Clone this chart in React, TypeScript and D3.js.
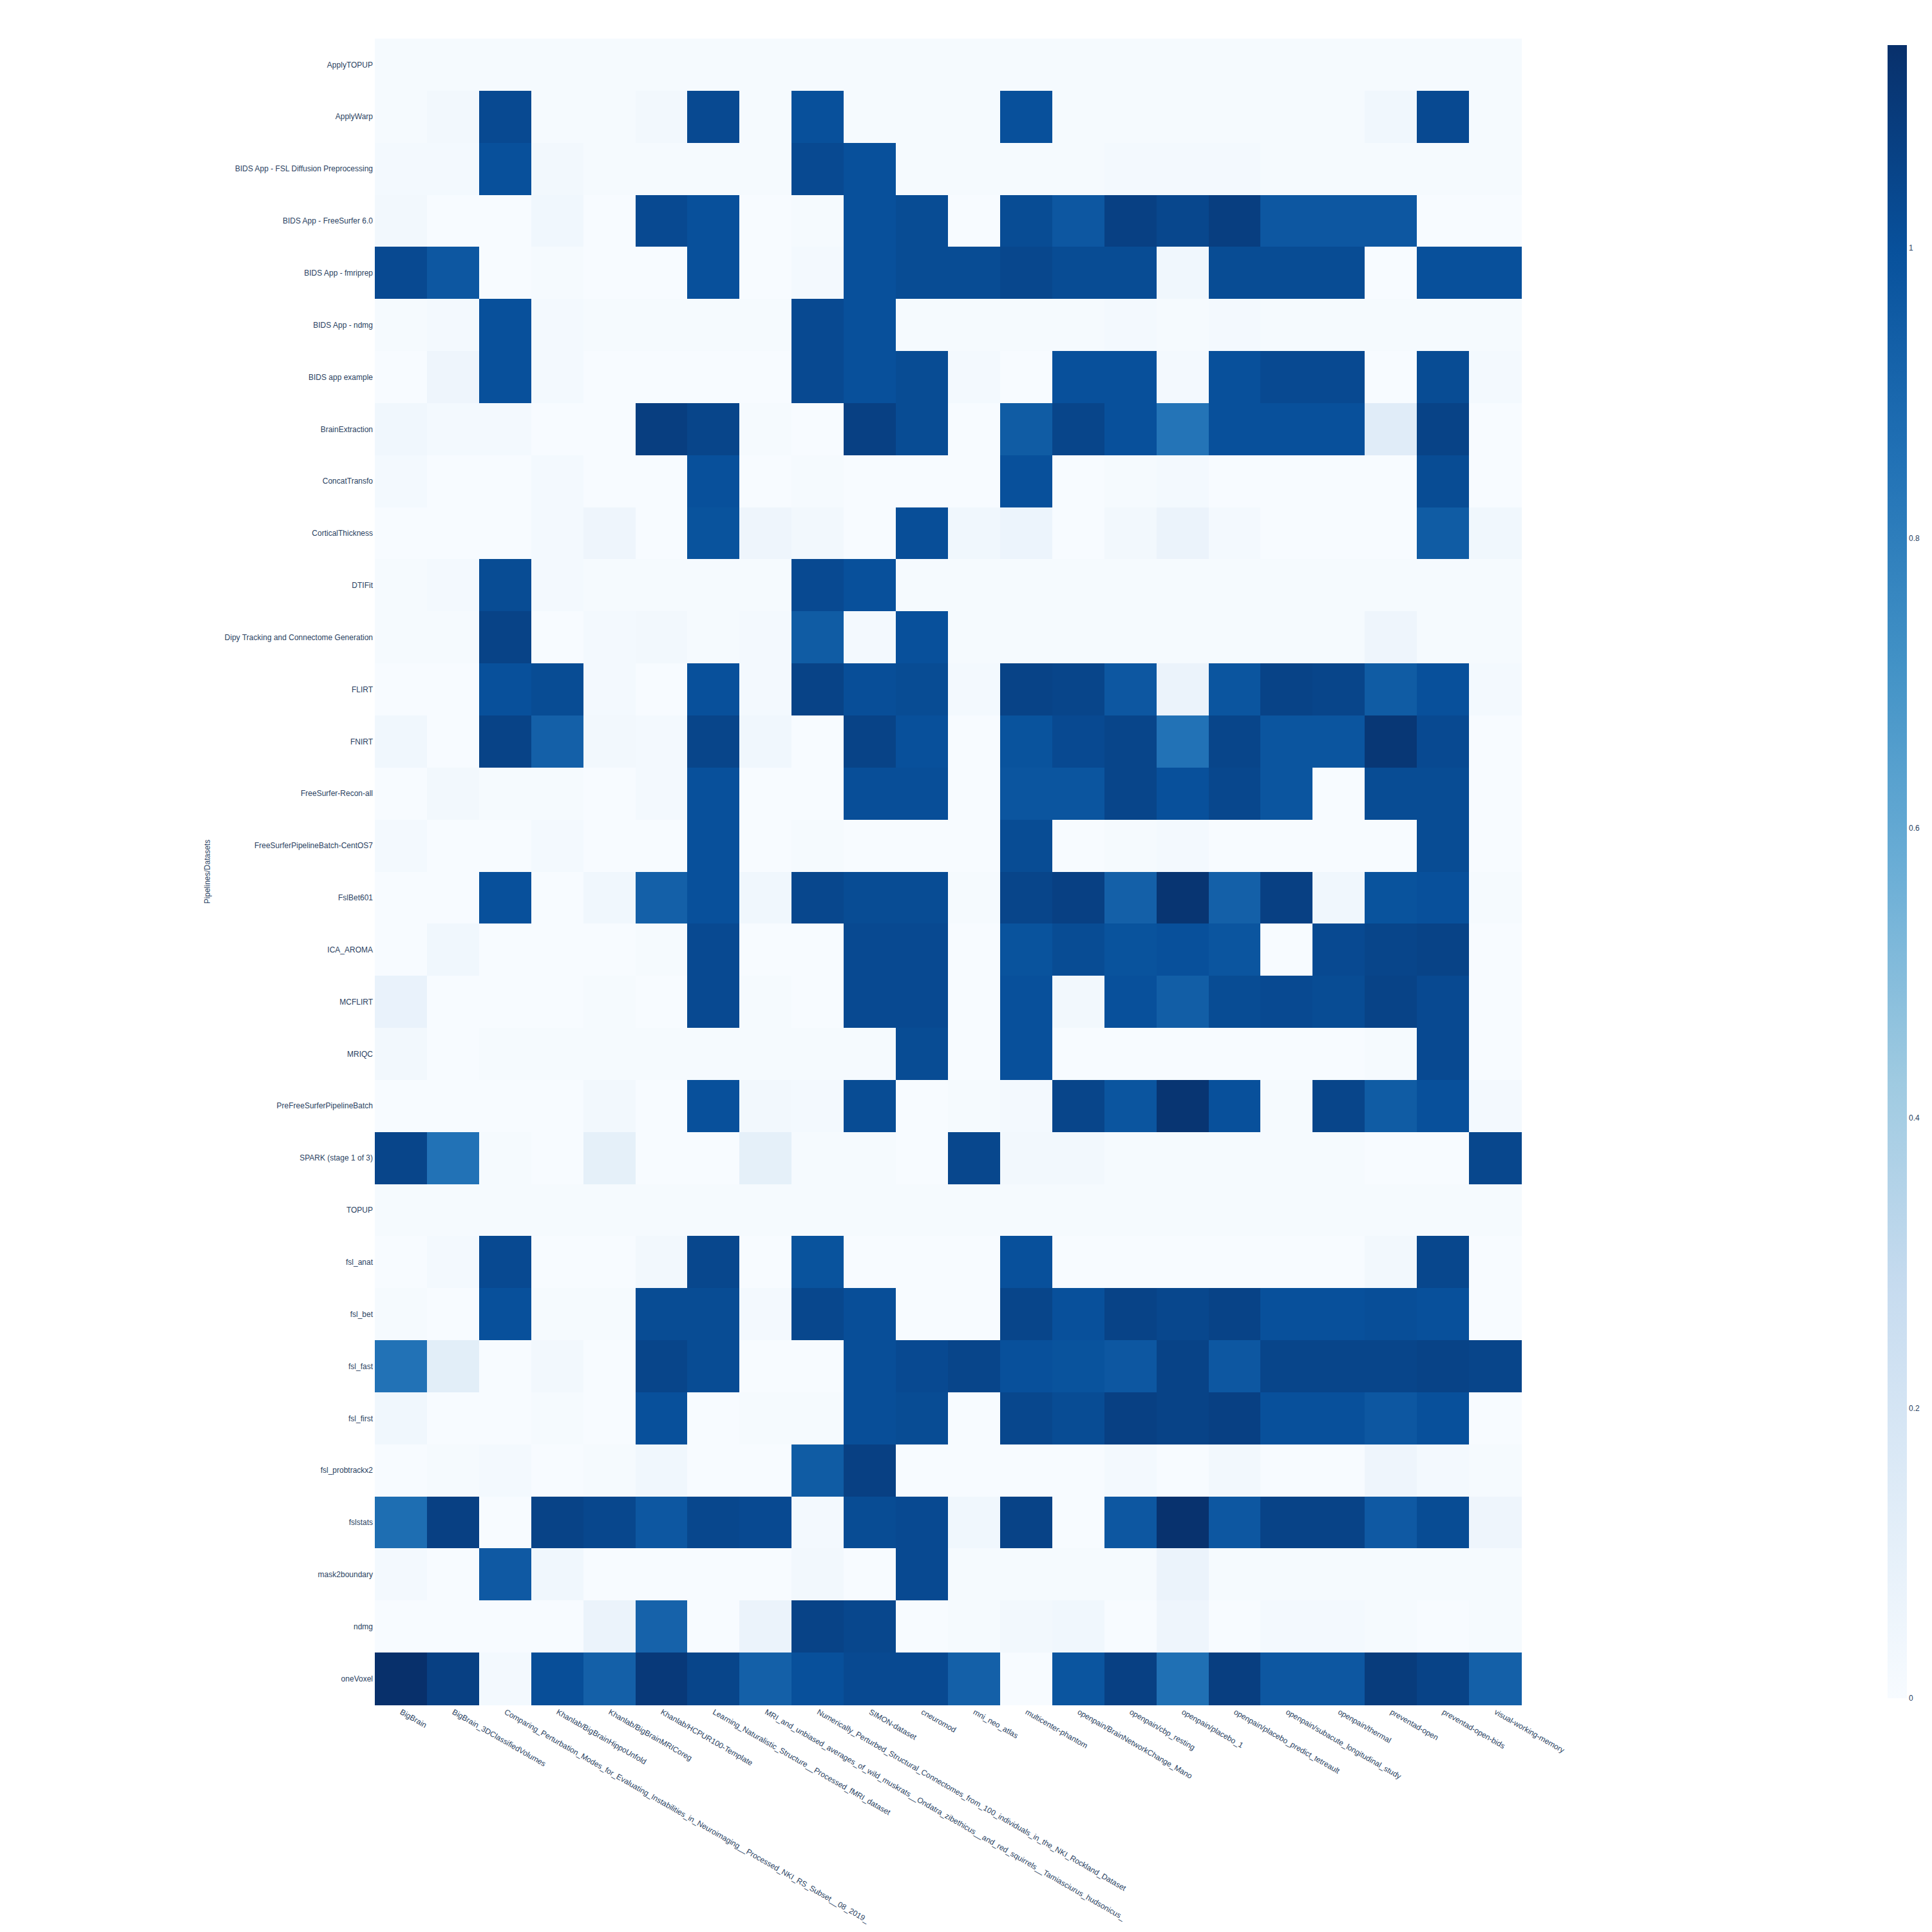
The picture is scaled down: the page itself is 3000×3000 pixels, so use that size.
import * as d3 from 'd3'

const datasets = [
    'BigBrain',
    'BigBrain_3DClassifiedVolumes',
    'Comparing_Perturbation_Modes_for_Evaluating_Instabilities_in_Neuroimaging__Processed_NKI_RS_Subset__08_2019_',
    'Khanlab/BigBrainHippoUnfold',
    'Khanlab/BigBrainMRICoreg',
    'Khanlab/HCPUR100-Template',
    'Learning_Naturalistic_Structure__Processed_fMRI_dataset',
    'MRI_and_unbiased_averages_of_wild_muskrats__Ondatra_zibethicus__and_red_squirrels__Tamiasciurus_hudsonicus_',
    'Numerically_Perturbed_Structural_Connectomes_from_100_individuals_in_the_NKI_Rockland_Dataset',
    'SIMON-dataset',
    'cneuromod',
    'mni_neo_atlas',
    'multicenter-phantom',
    'openpain/BrainNetworkChange_Mano',
    'openpain/cbp_resting',
    'openpain/placebo_1',
    'openpain/placebo_predict_tetreault',
    'openpain/subacute_longitudinal_study',
    'openpain/thermal',
    'preventad-open',
    'preventad-open-bids',
    'visual-working-memory',
]

const pipelines = [
    'ApplyTOPUP',
    'ApplyWarp',
    'BIDS App - FSL Diffusion Preprocessing',
    'BIDS App - FreeSurfer 6.0',
    'BIDS App - fmriprep',
    'BIDS App - ndmg',
    'BIDS app example',
    'BrainExtraction',
    'ConcatTransfo',
    'CorticalThickness',
    'DTIFit',
    'Dipy Tracking and Connectome Generation',
    'FLIRT',
    'FNIRT',
    'FreeSurfer-Recon-all',
    'FreeSurferPipelineBatch-CentOS7',
    'FslBet601',
    'ICA_AROMA',
    'MCFLIRT',
    'MRIQC',
    'PreFreeSurferPipelineBatch',
    'SPARK (stage 1 of 3)',
    'TOPUP',
    'fsl_anat',
    'fsl_bet',
    'fsl_fast',
    'fsl_first',
    'fsl_probtrackx2',
    'fslstats',
    'mask2boundary',
    'ndmg',
    'oneVoxel',
]

// one row per pipeline, one value per dataset
const values = [
    [0.01, 0.01, 0.01, 0.01, 0.01, 0.01, 0.01, 0.01, 0.01, 0.01, 0.01, 0.01, 0.01, 0.01, 0.01, 0.01, 0.01, 0.01, 0.01, 0.01, 0.01, 0.01],
    [0.01, 0.03, 1.03, 0.01, 0.01, 0.03, 1.03, 0.01, 1.0, 0.01, 0.01, 0.01, 1.0, 0.01, 0.01, 0.01, 0.01, 0.01, 0.01, 0.04, 1.03, 0.01],
    [0.02, 0.02, 1.0, 0.03, 0.01, 0.01, 0.01, 0.01, 1.03, 1.0, 0.01, 0.01, 0.01, 0.01, 0.02, 0.02, 0.02, 0.01, 0.01, 0.01, 0.01, 0.01],
    [0.03, 0, 0, 0.04, 0, 1.03, 1.0, 0, 0.01, 1.0, 1.02, 0, 1.02, 0.97, 1.07, 1.04, 1.08, 0.97, 0.97, 0.97, 0, 0],
    [1.03, 0.97, 0, 0.01, 0, 0, 1.0, 0, 0.02, 1.0, 1.02, 1.02, 1.04, 1.02, 1.02, 0.04, 1.02, 1.02, 1.02, 0, 1.0, 1.0],
    [0.01, 0.02, 1.0, 0.02, 0.01, 0.01, 0.01, 0.01, 1.03, 1.0, 0.01, 0.01, 0.01, 0.01, 0.02, 0.01, 0.02, 0.01, 0.01, 0.01, 0.01, 0.01],
    [0, 0.05, 1.0, 0.02, 0, 0, 0, 0, 1.03, 1.0, 1.02, 0.02, 0, 1.0, 1.0, 0.02, 1.0, 1.03, 1.03, 0, 1.02, 0.02],
    [0.04, 0.02, 0.02, 0, 0, 1.08, 1.05, 0.01, 0, 1.07, 1.02, 0, 0.95, 1.05, 1.0, 0.84, 1.0, 1.0, 1.0, 0.13, 1.06, 0],
    [0.02, 0, 0, 0.02, 0, 0, 1.0, 0, 0.01, 0, 0, 0, 1.0, 0, 0.01, 0.02, 0, 0, 0, 0, 1.02, 0],
    [0, 0, 0, 0.02, 0.05, 0, 0.99, 0.05, 0.03, 0, 1.01, 0.04, 0.06, 0, 0.03, 0.07, 0.02, 0, 0, 0, 0.95, 0.04],
    [0.01, 0.02, 1.02, 0.02, 0.01, 0.01, 0.01, 0.01, 1.03, 1.0, 0.01, 0.01, 0.01, 0.01, 0.01, 0.01, 0.01, 0.01, 0.01, 0.01, 0.01, 0.01],
    [0.01, 0.01, 1.06, 0, 0.02, 0.03, 0.01, 0.02, 0.95, 0.02, 1.0, 0.01, 0.01, 0.01, 0.01, 0.01, 0.01, 0.01, 0.01, 0.05, 0.01, 0.01],
    [0, 0, 1.0, 1.02, 0.02, 0, 1.0, 0.02, 1.06, 1.01, 1.02, 0.02, 1.06, 1.05, 0.97, 0.07, 0.98, 1.06, 1.05, 0.95, 1.0, 0.02],
    [0.04, 0, 1.06, 0.93, 0.03, 0.02, 1.05, 0.04, 0, 1.06, 1.0, 0, 0.99, 1.03, 1.05, 0.85, 1.05, 0.98, 0.98, 1.11, 1.03, 0],
    [0, 0.03, 0.01, 0.01, 0, 0.02, 1.0, 0, 0, 1.01, 1.01, 0, 0.98, 0.98, 1.05, 1.0, 1.04, 0.98, 0, 1.02, 1.02, 0],
    [0.02, 0, 0, 0.02, 0, 0, 1.0, 0, 0.01, 0, 0, 0, 1.02, 0, 0.01, 0.02, 0, 0, 0, 0, 1.02, 0],
    [0, 0, 1.0, 0, 0.04, 0.93, 1.0, 0.04, 1.04, 1.02, 1.02, 0.01, 1.05, 1.07, 0.93, 1.12, 0.93, 1.07, 0.04, 0.99, 1.0, 0.01],
    [0, 0.04, 0, 0, 0, 0.01, 1.03, 0, 0, 1.03, 1.03, 0, 0.99, 1.02, 0.99, 1.0, 0.98, 0, 1.03, 1.05, 1.06, 0],
    [0.08, 0, 0, 0, 0.01, 0, 1.03, 0.01, 0, 1.03, 1.03, 0, 1.0, 0.03, 1.0, 0.94, 1.02, 1.03, 1.02, 1.06, 1.03, 0],
    [0.03, 0, 0.01, 0.01, 0.01, 0.01, 0.01, 0.01, 0.01, 0.01, 1.02, 0, 1.0, 0, 0, 0, 0, 0, 0, 0.01, 1.03, 0],
    [0, 0, 0, 0, 0.03, 0, 1.0, 0.03, 0.02, 1.02, 0, 0.01, 0.02, 1.05, 0.98, 1.12, 1.0, 0.01, 1.05, 0.95, 1.0, 0.02],
    [1.05, 0.85, 0.01, 0, 0.1, 0, 0, 0.1, 0.01, 0.01, 0, 1.04, 0.03, 0.03, 0.01, 0.01, 0.01, 0.01, 0.01, 0, 0, 1.04],
    [0.01, 0.01, 0.01, 0.01, 0.01, 0.01, 0.01, 0.01, 0.01, 0.01, 0.01, 0.01, 0.01, 0.01, 0.01, 0.01, 0.01, 0.01, 0.01, 0.01, 0.01, 0.01],
    [0, 0.02, 1.03, 0, 0, 0.03, 1.04, 0, 0.99, 0, 0, 0, 1.0, 0, 0, 0, 0, 0, 0, 0.03, 1.04, 0],
    [0.01, 0, 1.0, 0.01, 0.01, 1.02, 1.02, 0.02, 1.04, 1.01, 0, 0, 1.05, 1.0, 1.06, 1.04, 1.06, 1.0, 1.0, 1.01, 1.0, 0],
    [0.85, 0.12, 0, 0.03, 0, 1.05, 1.02, 0, 0, 1.01, 1.03, 1.05, 1.0, 0.99, 0.97, 1.06, 0.97, 1.05, 1.05, 1.05, 1.06, 1.05],
    [0.04, 0, 0, 0.01, 0, 1.0, 0, 0.01, 0.01, 1.01, 1.02, 0, 1.04, 1.02, 1.07, 1.06, 1.07, 1.0, 1.0, 0.97, 1.0, 0],
    [0, 0.01, 0.02, 0, 0.01, 0.04, 0, 0, 0.95, 1.07, 0, 0, 0, 0, 0.02, 0, 0.03, 0, 0, 0.05, 0.02, 0.01],
    [0.87, 1.07, 0, 1.06, 1.04, 0.97, 1.04, 1.03, 0.02, 1.02, 1.03, 0.04, 1.06, 0, 0.97, 1.13, 0.97, 1.06, 1.06, 0.96, 1.02, 0.05],
    [0.02, 0, 0.96, 0.04, 0, 0, 0, 0, 0.03, 0, 1.03, 0.01, 0.01, 0.01, 0.01, 0.07, 0.01, 0.01, 0.01, 0.01, 0.01, 0.01],
    [0, 0, 0, 0, 0.07, 0.92, 0, 0.07, 1.06, 1.04, 0, 0.01, 0.03, 0.04, 0, 0.05, 0, 0.02, 0.02, 0.01, 0, 0.01],
    [1.14, 1.07, 0.02, 1.01, 0.93, 1.1, 1.05, 0.93, 1.0, 1.03, 1.03, 0.93, 0, 0.98, 1.07, 0.86, 1.08, 0.97, 0.97, 1.09, 1.06, 0.93],
]

const colorbarTicks = [0, 0.2, 0.4, 0.6, 0.8, 1]
const yTitle = 'Pipelines/Datasets'

const W = 3000
const H = 3000
const plotLeft = 582
const plotRight = 2362
const plotTop = 60
const plotBottom = 2647
const cbLeft = 2931
const cbWidth = 30
const textColor = '#2a3f5f'
const font = '"Liberation Sans", Arial, sans-serif'

export default function App() {
    const zMax = d3.max(values.flat()) as number
    const blues = d3.schemeBlues[9]
    const color = d3
        .scaleLinear<string>()
        .domain(blues.map((_, i) => (i / (blues.length - 1)) * zMax))
        .range(blues)
        .interpolate(d3.interpolateRgb)
        .clamp(true)

    const x = d3.scaleBand().domain(datasets).range([plotLeft, plotRight])
    const y = d3.scaleBand().domain(pipelines).range([plotTop, plotBottom])
    const cb = d3
        .scaleLinear()
        .domain([0, zMax])
        .range([plotBottom - 10, plotTop + 10])

    const cells = values.flatMap((row, i) =>
        row.map((v, j) => ({ p: pipelines[i], d: datasets[j], v }))
    )

    return (
        <div style={{ position: 'absolute', left: 0, top: 0 }}>
            <svg width={W} height={H} style={{ display: 'block', background: 'white' }}>
                <defs>
                    <linearGradient id="cbgrad" x1="0" y1="1" x2="0" y2="0">
                        {blues.map((c, i) => (
                            <stop key={i} offset={i / (blues.length - 1)} stopColor={c} />
                        ))}
                    </linearGradient>
                </defs>
                <g shapeRendering="crispEdges">
                    {cells.map((c, k) => (
                        <rect
                            key={k}
                            x={x(c.d)}
                            y={y(c.p)}
                            width={x.bandwidth() + 0.5}
                            height={y.bandwidth() + 0.5}
                            fill={color(c.v)}
                        />
                    ))}
                </g>
                <g fontFamily={font} fontSize={12} fill={textColor}>
                    {pipelines.map((p) => (
                        <text
                            key={p}
                            x={plotLeft - 3}
                            y={(y(p) as number) + y.bandwidth() / 2}
                            dy="0.35em"
                            textAnchor="end"
                        >
                            {p}
                        </text>
                    ))}
                    {datasets.map((d) => (
                        <text
                            key={d}
                            transform={`translate(${(x(d) as number) + x.bandwidth() / 2},${plotBottom + 10}) rotate(30)`}
                            dy="0.35em"
                            textAnchor="start"
                        >
                            {d}
                        </text>
                    ))}
                    <text
                        transform={`translate(322,${(plotTop + plotBottom) / 2}) rotate(-90)`}
                        dy="0.35em"
                        textAnchor="middle"
                    >
                        {yTitle}
                    </text>
                </g>
                <rect
                    x={cbLeft}
                    y={cb(zMax)}
                    width={cbWidth}
                    height={cb(0) - cb(zMax)}
                    fill="url(#cbgrad)"
                />
                <g fontFamily={font} fontSize={12} fill={textColor}>
                    {colorbarTicks.map((t) => (
                        <text key={t} x={cbLeft + cbWidth + 3} y={cb(t)} dy="0.35em">
                            {d3.format('~g')(t)}
                        </text>
                    ))}
                </g>
            </svg>
        </div>
    )
}
